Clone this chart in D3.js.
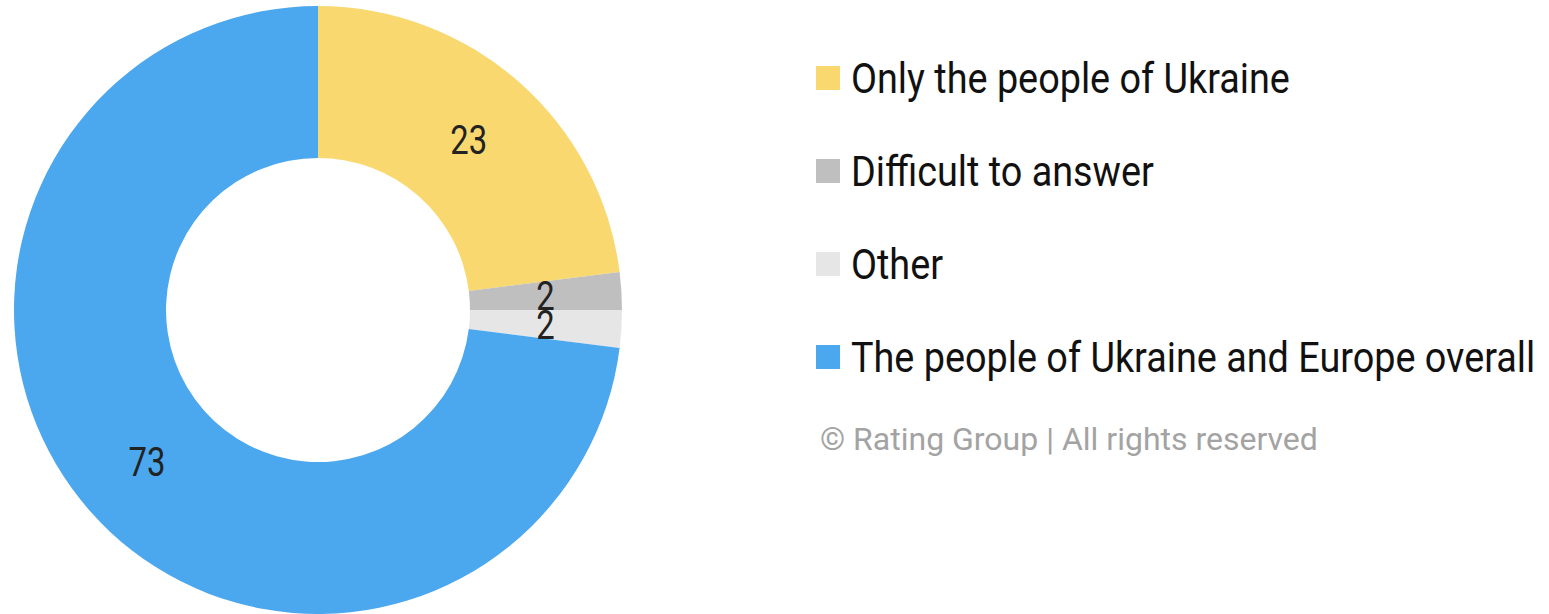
<!DOCTYPE html>
<html>
<head>
<meta charset="utf-8">
<script src="https://cdn.jsdelivr.net/npm/d3@7"></script>
<style>
  html, body { margin: 0; padding: 0; background: #fff; }
  svg { display: block; }
</style>
</head>
<body>
<div id="app"></div>
<script>
const categories = ["Only the people of Ukraine", "Difficult to answer", "Other", "The people of Ukraine and Europe overall"];
const values = [23, 2, 2, 73];
const colors = ["#f9d870", "#bfbfbf", "#e6e6e6", "#4ba7ee"];
const footer = "© Rating Group | All rights reserved";

const width = 1549;
const height = 614;

// condensed look, no Roboto Condensed available
const squeezeLabel = 0.8;
const squeezeLegend = 0.9;

const svg = d3.select("#app")
    .append("svg")
    .attr("width", width)
    .attr("height", height);

const cx = 318, cy = 310;
const outerR = 304, innerR = 152;

const pie = d3.pie().sort(null).value(d => d.value);
const arcs = pie(categories.map((c, i) => ({ name: c, value: values[i], color: colors[i] })));

const arc = d3.arc().innerRadius(innerR).outerRadius(outerR);

const g = svg.append("g").attr("transform", `translate(${cx},${cy})`);

g.selectAll("path")
    .data(arcs)
    .join("path")
    .attr("d", arc)
    .attr("fill", d => d.data.color);

g.selectAll("text")
    .data(arcs)
    .join("text")
    .attr("transform", d => {
        const [x, y] = arc.centroid(d);
        return `translate(${x},${y}) scale(${squeezeLabel},1)`;
    })
    .attr("text-anchor", "middle")
    .attr("dy", "0.36em")
    .attr("font-family", "Roboto, sans-serif")
    .attr("font-size", 41)
    .attr("fill", "#222")
    .text(d => d.data.value);

// legend
const legend = svg.append("g").attr("transform", "translate(816,78)");
const rowH = 93;

const item = legend.selectAll("g")
    .data(categories)
    .join("g")
    .attr("transform", (d, i) => `translate(0,${i * rowH})`);

item.append("rect")
    .attr("x", 0)
    .attr("y", -12)
    .attr("width", 24)
    .attr("height", 24)
    .attr("fill", (d, i) => colors[i]);

item.append("text")
    .attr("transform", `translate(35,0) scale(${squeezeLegend},1)`)
    .attr("dy", "0.35em")
    .attr("font-family", "Roboto, sans-serif")
    .attr("font-size", 42)
    .attr("fill", "#111")
    .text(d => d);

svg.append("text")
    .attr("x", 820)
    .attr("y", 450)
    .attr("font-family", "Roboto, sans-serif")
    .attr("font-size", 32)
    .attr("fill", "#a3a3a3")
    .text(footer);
</script>
</body>
</html>
